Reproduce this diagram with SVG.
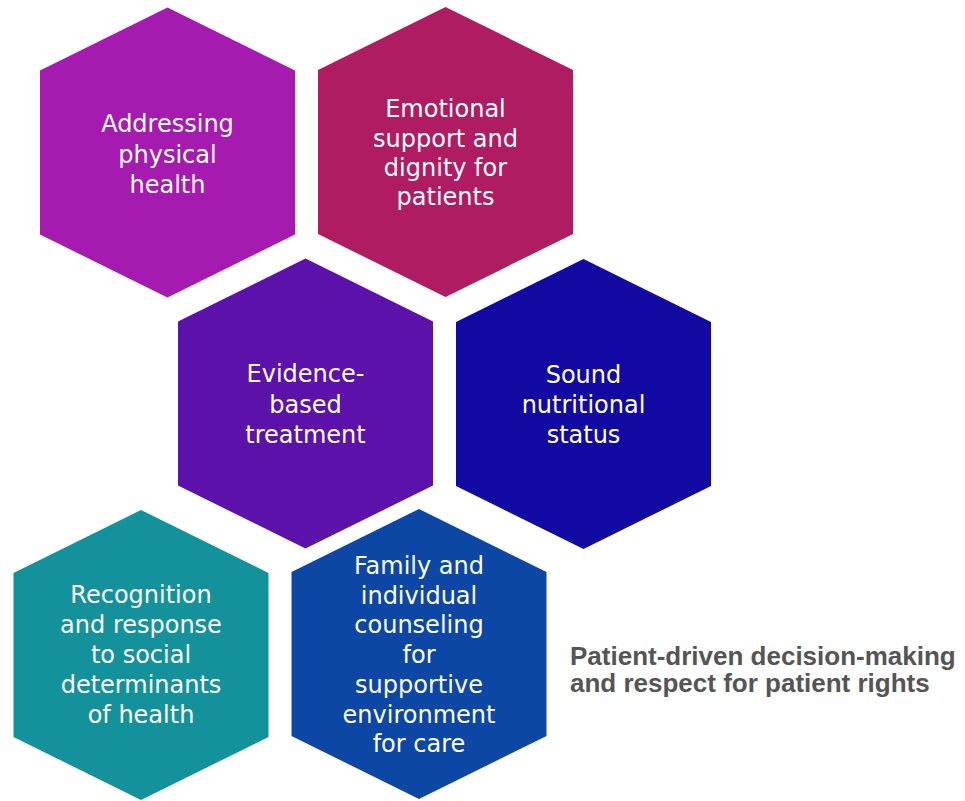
<svg xmlns="http://www.w3.org/2000/svg" xmlns:xlink="http://www.w3.org/1999/xlink" width="965" height="801" viewBox="0 0 965 801">
<style>
.lbl{font-family:"DejaVu Sans","Liberation Sans",sans-serif;font-size:24px;fill:#ffffff;text-anchor:middle}
.h1{fill:#A51BB0}.h2{fill:#B01C62}.h3{fill:#5C12AA}.h4{fill:#1209A3}.h5{fill:#14929C}.h6{fill:#0D47A6}
.side{font-family:"Liberation Sans",Arial,sans-serif;font-weight:bold;font-size:26px;fill:#555555}
</style>
<defs>
<polygon id="hex" points="0,-145 127.5,-82 127.5,82 0,145 -127.5,82 -127.5,-82"/>
</defs>
<rect width="965" height="801" fill="#ffffff"/>
<g id="node-physical">
<use xlink:href="#hex" class="h1" transform="translate(167.5,152.5)"/>
<text class="lbl"><tspan x="167.5" y="132">Addressing</tspan><tspan x="167.5" y="162.5">physical</tspan><tspan x="167.5" y="193">health</tspan></text>
</g>
<g id="node-emotional">
<use xlink:href="#hex" class="h2" transform="translate(445.5,152)"/>
<text class="lbl"><tspan x="445.5" y="117">Emotional</tspan><tspan x="445.5" y="147">support and</tspan><tspan x="445.5" y="176">dignity for</tspan><tspan x="445.5" y="205">patients</tspan></text>
</g>
<g id="node-evidence">
<use xlink:href="#hex" class="h3" transform="translate(305.5,403.5)"/>
<text class="lbl"><tspan x="305.5" y="382">Evidence-</tspan><tspan x="305.5" y="413">based</tspan><tspan x="305.5" y="443">treatment</tspan></text>
</g>
<g id="node-nutrition">
<use xlink:href="#hex" class="h4" transform="translate(583.5,404)"/>
<text class="lbl"><tspan x="583.5" y="383">Sound</tspan><tspan x="583.5" y="413">nutritional</tspan><tspan x="583.5" y="443">status</tspan></text>
</g>
<g id="node-social">
<use xlink:href="#hex" class="h5" transform="translate(141,655)"/>
<text class="lbl"><tspan x="141" y="603">Recognition</tspan><tspan x="141" y="633">and response</tspan><tspan x="141" y="663">to social</tspan><tspan x="141" y="693">determinants</tspan><tspan x="141" y="723">of health</tspan></text>
</g>
<g id="node-family">
<use xlink:href="#hex" class="h6" transform="translate(419,654)"/>
<text class="lbl"><tspan x="419" y="574">Family and</tspan><tspan x="419" y="604">individual</tspan><tspan x="419" y="633">counseling</tspan><tspan x="419" y="663">for</tspan><tspan x="419" y="693">supportive</tspan><tspan x="419" y="723">environment</tspan><tspan x="419" y="752">for care</tspan></text>
</g>
<g id="connectors"></g>
<g id="node-patient-driven">
<text class="side"><tspan x="570" y="665">Patient-driven decision-making</tspan><tspan x="570" y="692">and respect for patient rights</tspan></text>
</g>
</svg>
